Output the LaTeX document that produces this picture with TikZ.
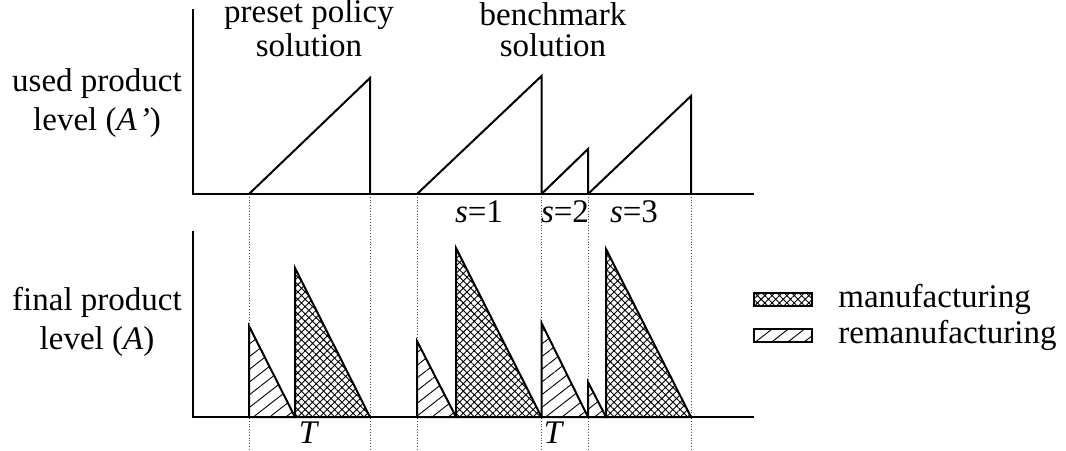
\documentclass[tikz,border=0pt]{standalone}
\usepackage{fontspec}
\setmainfont{Liberation Serif}
\usepackage{tikz}
\usetikzlibrary{patterns.meta}
\tikzset{
  axisline/.style={
    line width=1pt,
    draw=black
  },
  sawline/.style={
    line width=1pt,
    draw=black,
    line join=miter
  },
  manarea/.style={
    sawline,
    pattern={Hatch[angle=45,distance=2.6pt,line width=0.45pt]}
  },
  remanarea/.style={
    sawline,
    pattern={Lines[angle=38,distance=5pt,line width=0.45pt]}
  },
  guideline/.style={
    densely dotted,
    line width=0.4pt,
    draw=black!70
  },
  sidelabel/.style={
    align=center,
    inner sep=0pt,
    font=\fontsize{16.5}{19.5}\selectfont
  },
  ticklabel/.style={
    inner sep=0pt,
    font=\fontsize{16.5}{18.5}\selectfont
  }
}

\begin{document}
\begin{tikzpicture}[x=0.5pt,y=-0.5pt]
\useasboundingbox (0,0) rectangle (1066,450);

% guide lines
\draw[guideline] (249,194) -- (249,450);
\draw[guideline] (370,194) -- (370,450);
\draw[guideline] (417,194) -- (417,450);
\draw[guideline] (541.5,194) -- (541.5,450);
\draw[guideline] (588,194) -- (588,450);
\draw[guideline] (691,194) -- (691,450);

% used product level
\draw[sawline] (249,194) -- (370,78) -- (370,194);
\draw[sawline] (417,194) -- (541.5,76) -- (541.5,194);
\draw[sawline] (541.5,194) -- (588,149) -- (588,194);
\draw[sawline] (588,194) -- (691,96) -- (691,194);
\draw[axisline] (193,9) -- (193,194) -- (754,194);

% final product level
\draw[remanarea] (249,417) -- (249,326) -- (295,417) -- cycle;
\draw[manarea] (295,417) -- (295,268) -- (370,417) -- cycle;
\draw[remanarea] (417,417) -- (417,341) -- (456,417) -- cycle;
\draw[manarea] (456,417) -- (456,248) -- (541.5,417) -- cycle;
\draw[remanarea] (541.5,417) -- (541.5,323) -- (588,417) -- cycle;
\draw[remanarea] (588,417) -- (588,382) -- (606,417) -- cycle;
\draw[manarea] (606,417) -- (606,249) -- (691,417) -- cycle;
\draw[axisline] (193,231) -- (193,417) -- (754,417);

% labels
\node[ticklabel] (preset) at (309,15) {preset policy};
\node[ticklabel] (presetsol) at (309,45) {solution};
\node[ticklabel] (bench) at (553,14) {benchmark};
\node[ticklabel] (benchsol) at (553,45) {solution};
\node[sidelabel] (usedlvl) at (97,103) {used product\\level (\textit{A}\kern1pt\textit{'})};
\node[sidelabel] (finallvl) at (97,322) {final product\\level (\textit{A})};
\node[ticklabel] (sone) at (479,212) {\textit{s}=1};
\node[ticklabel] (stwo) at (565,212) {\textit{s}=2};
\node[ticklabel] (sthree) at (634,212) {\textit{s}=3};
\node[ticklabel] (tpreset) at (309,433) {\textit{T}};
\node[ticklabel] (tbench) at (554,433) {\textit{T}};

% legend
\draw[manarea] (754,293) rectangle (812,306);
\draw[remanarea] (754,329) rectangle (812,342);
\node[ticklabel, anchor=west] (manleg) at (838,299) {manufacturing};
\node[ticklabel, anchor=west] (remanleg) at (838,335) {remanufacturing};
\end{tikzpicture}
\end{document}
